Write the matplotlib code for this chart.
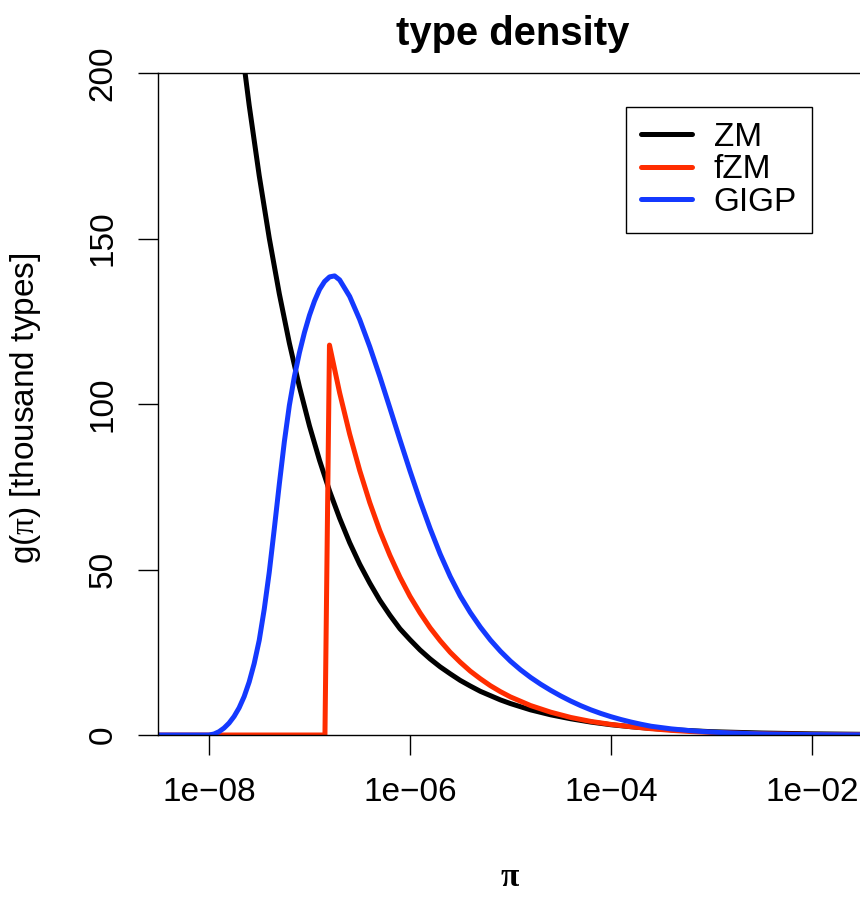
import numpy as np
import matplotlib.pyplot as plt

plt.rcParams['font.family'] = ['Liberation Sans', 'DejaVu Sans']
plt.rcParams['mathtext.fontset'] = 'custom'
plt.rcParams['mathtext.rm'] = 'Liberation Serif'

# values: log10(pi) and g(pi) in thousand types
zm_logpi = [-7.7, -7.6, -7.5, -7.4, -7.3, -7.2, -7.1, -7.0, -6.9, -6.8,
            -6.7, -6.6, -6.5, -6.4, -6.3, -6.2, -6.1, -6.0, -5.9, -5.8,
            -5.7, -5.6, -5.5, -5.4, -5.3, -5.2, -5.1, -5.0, -4.8, -4.6,
            -4.4, -4.2, -4.0, -3.8, -3.6, -3.4, -3.2, -3.0, -2.5, -2.0, -1.4]
zm_g = [214.2, 190.3, 169.0, 150.1, 133.3, 118.4, 105.2, 93.4, 83.0, 73.7,
        65.5, 58.1, 51.6, 45.9, 40.7, 36.2, 32.1, 28.8, 25.7, 23.0,
        20.6, 18.5, 16.5, 14.8, 13.2, 11.9, 10.6, 9.5, 7.6, 6.1,
        4.9, 3.9, 3.1, 2.5, 2.0, 1.6, 1.3, 1.0, 0.6, 0.35, 0.18]

fzm_logpi = [-8.55, -6.846, -6.801, -6.7, -6.6, -6.5, -6.4, -6.3, -6.2, -6.1,
             -6.0, -5.9, -5.8, -5.7, -5.6, -5.5, -5.4, -5.3, -5.2, -5.1,
             -5.0, -4.8, -4.6, -4.4, -4.2, -4.0, -3.8, -3.6, -3.4, -3.2,
             -3.0, -2.5, -2.0, -1.4]
fzm_g = [0, 0, 117.8, 103.4, 90.9, 79.9, 70.2, 61.7, 54.3, 47.7,
         41.9, 36.9, 32.4, 28.5, 25.0, 22.0, 19.3, 17.0, 14.9, 13.1,
         11.5, 8.9, 6.9, 5.3, 4.1, 3.2, 2.5, 1.9, 1.4, 1.04,
         0.77, 0.36, 0.17, 0.07]

gigp_logpi = [-8.55, -8.0, -7.95, -7.9, -7.85, -7.8, -7.75, -7.7, -7.65, -7.6,
              -7.55, -7.5, -7.45, -7.4, -7.35, -7.3, -7.25, -7.2, -7.15, -7.1,
              -7.05, -7.0, -6.95, -6.9, -6.85, -6.8, -6.75, -6.7, -6.6, -6.5,
              -6.4, -6.3, -6.2, -6.1, -6.0, -5.9, -5.8, -5.7, -5.6, -5.5,
              -5.4, -5.3, -5.2, -5.1, -5.0, -4.9, -4.8, -4.7, -4.6, -4.5,
              -4.4, -4.3, -4.2, -4.1, -4.0, -3.9, -3.8, -3.7, -3.6, -3.4,
              -3.2, -3.0, -2.8, -2.6, -2.4, -2.2, -2.0, -1.7, -1.4]
gigp_g = [0, 0, 0.3, 1.0, 2.1, 3.6, 5.6, 8.2, 11.6, 16.0,
          21.6, 28.6, 38.0, 49.2, 62.3, 75.8, 88.6, 99.6, 108.3, 115.5,
          121.6, 126.8, 131.1, 134.6, 137.0, 138.4, 138.7, 137.5, 132.5, 125.5,
          117.3, 108.3, 98.8, 89.2, 79.8, 70.8, 62.4, 54.7, 47.9, 42.0,
          37.0, 32.6, 28.7, 25.3, 22.3, 19.7, 17.4, 15.35, 13.5, 11.8,
          10.25, 8.85, 7.6, 6.5, 5.53, 4.67, 3.91, 3.24, 2.64, 1.85,
          1.28, 0.88, 0.6, 0.4, 0.27, 0.18, 0.12, 0.07, 0.04]

series = [('ZM', zm_logpi, zm_g, 'black'),
          ('fZM', fzm_logpi, fzm_g, '#FF2D00'),
          ('GIGP', gigp_logpi, gigp_g, '#1439FF')]

xticks = [1e-8, 1e-6, 1e-4, 1e-2]
xticklabels = ['1e\u221208', '1e\u221206', '1e\u221204', '1e\u221202']
yticks = [0, 50, 100, 150, 200]

fig = plt.figure(figsize=(8.6, 8.99), dpi=100)
ax = fig.add_axes([0.18372, 0.18242, 0.82558, 0.73637])

for name, lx, y, col in series:
    ax.plot(10.0 ** np.array(lx), y, color=col, lw=3.6, label=name,
            solid_capstyle='round', solid_joinstyle='round')

ax.set_xscale('log')
ax.set_xlim(10 ** -8.507, 10 ** -1.443)
ax.set_ylim(0, 200)
ax.set_xticks(xticks)
ax.set_xticklabels(xticklabels)
ax.minorticks_off()
ax.set_yticks(yticks)
ax.set_yticklabels([str(v) for v in yticks], rotation=90, va='center')
ax.tick_params(axis='both', labelsize=24, length=14.5, width=1.0,
               direction='out', pad=14)
ax.tick_params(axis='x', pad=16)

for s in ['left', 'top', 'bottom']:
    ax.spines[s].set_linewidth(1.0)
ax.spines['right'].set_visible(False)

ax.set_title('type density', fontsize=28.8, fontweight='bold', pad=20)
ax.set_xlabel('π', fontsize=24, family='Liberation Serif', fontweight='bold')
ax.xaxis.set_label_coords(0.4958, -0.192)
ax.set_ylabel(r'g($\mathrm{\pi}$) [thousand types]', fontsize=24)
ax.yaxis.set_label_coords(-0.162, 0.494)

leg = ax.legend(loc='upper right', bbox_to_anchor=(0.9211, 0.9486),
                borderaxespad=0, fontsize=24, handlelength=1.53,
                handletextpad=0.66, labelspacing=0.04, borderpad=0.45,
                fancybox=False, framealpha=1, edgecolor='black')
leg.get_frame().set_linewidth(1.0)

fig.savefig('out.png', dpi=100)
